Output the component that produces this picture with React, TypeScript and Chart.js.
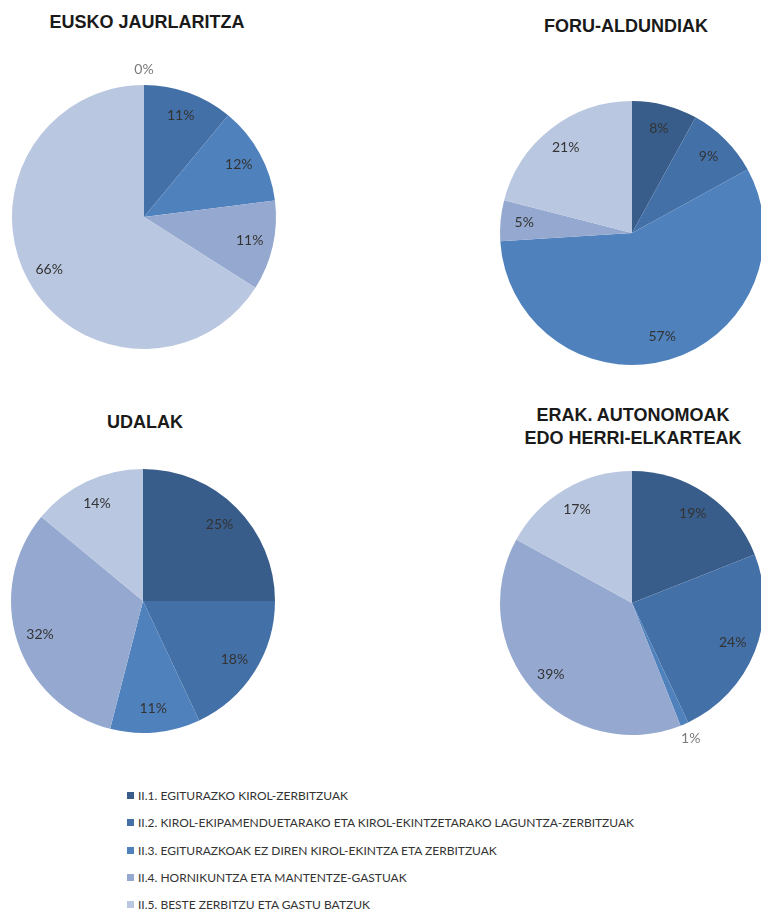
import React, { useEffect, useRef } from "react";
import { Chart, registerables } from "chart.js";

Chart.register(...registerables);

const categories = [
  "II.1. EGITURAZKO KIROL-ZERBITZUAK",
  "II.2. KIROL-EKIPAMENDUETARAKO ETA KIROL-EKINTZETARAKO LAGUNTZA-ZERBITZUAK",
  "II.3. EGITURAZKOAK EZ DIREN KIROL-EKINTZA ETA ZERBITZUAK",
  "II.4. HORNIKUNTZA ETA MANTENTZE-GASTUAK",
  "II.5. BESTE ZERBITZU ETA GASTU BATZUK",
];
const sliceColors = ["#385D8A", "#4470A8", "#4F81BD", "#95A9D0", "#B9C7E0"];

const euskoJaurlaritza = [0, 11, 12, 11, 66];
const foruAldundiak = [8, 9, 57, 5, 21];
const udalak = [25, 18, 11, 32, 14];
const erakAutonomoak = [19, 24, 1, 39, 17];

const pctLabels = {
  id: "pctLabels",
  afterDatasetsDraw(chart: any) {
    const ctx = chart.ctx;
    const meta = chart.getDatasetMeta(0);
    const data = chart.data.datasets[0].data as number[];
    ctx.save();
    ctx.textAlign = "center";
    ctx.textBaseline = "middle";
    meta.data.forEach((arc: any, i: number) => {
      const p = arc.getProps(["x", "y", "startAngle", "endAngle", "outerRadius"], true);
      const mid = (p.startAngle + p.endAngle) / 2;
      const v = data[i];
      const outside = v <= 1;
      const r = outside ? p.outerRadius + 16 : p.outerRadius * 0.82;
      ctx.font = "14px Lato";
      ctx.fillStyle = outside ? "#7a7a7a" : "#333333";
      ctx.fillText(v + "%", p.x + Math.cos(mid) * r, p.y + Math.sin(mid) * r);
    });
    ctx.restore();
  },
};

const SIZE = 320;
const PAD = 28;

function Pie({ values, cx, cy }: { values: number[]; cx: number; cy: number }) {
  const ref = useRef<HTMLCanvasElement>(null);
  useEffect(() => {
    if (!ref.current) return;
    const chart = new Chart(ref.current, {
      type: "pie",
      data: {
        labels: categories,
        datasets: [
          {
            data: values,
            backgroundColor: sliceColors,
            borderWidth: 0,
          },
        ],
      },
      options: {
        responsive: false,
        animation: false,
        layout: { padding: PAD },
        plugins: {
          legend: { display: false },
          tooltip: { enabled: false },
        },
      },
      plugins: [pctLabels],
    });
    return () => chart.destroy();
  }, [values]);
  return (
    <canvas
      ref={ref}
      width={SIZE}
      height={SIZE}
      style={{ position: "absolute", left: cx - SIZE / 2, top: cy - SIZE / 2, width: SIZE, height: SIZE }}
    />
  );
}

function Title({ lines, cx, cy }: { lines: string[]; cx: number; cy: number }) {
  const lh = 23;
  return (
    <div
      style={{
        position: "absolute",
        left: cx - 160,
        width: 320,
        top: cy - lh / 2,
        textAlign: "center",
        font: "bold 18px 'Liberation Sans', Arial, sans-serif",
        lineHeight: lh + "px",
        color: "#1a1a1a",
        whiteSpace: "nowrap",
      }}
    >
      {lines.map((l, i) => (
        <div key={i}>{l}</div>
      ))}
    </div>
  );
}

export default function App() {
  return (
    <div
      style={{
        position: "fixed",
        left: 0,
        top: 0,
        width: 761,
        height: 915,
        overflow: "hidden",
        background: "#ffffff",
      }}
    >
      <Title lines={["EUSKO JAURLARITZA"]} cx={147} cy={22} />
      <Title lines={["FORU-ALDUNDIAK"]} cx={626} cy={26} />
      <Title lines={["UDALAK"]} cx={145} cy={422} />
      <Title lines={["ERAK. AUTONOMOAK", "EDO HERRI-ELKARTEAK"]} cx={633} cy={415} />
      <Pie values={euskoJaurlaritza} cx={144} cy={217} />
      <Pie values={foruAldundiak} cx={632} cy={233} />
      <Pie values={udalak} cx={143} cy={601} />
      <Pie values={erakAutonomoak} cx={632} cy={603} />
      <div style={{ position: "absolute", left: 127, top: 782 }}>
        {categories.map((c, i) => (
          <div
            key={i}
            style={{
              display: "flex",
              alignItems: "center",
              height: 27.3,
              font: "12px Lato, sans-serif",
              color: "#333333",
              whiteSpace: "nowrap",
            }}
          >
            <span
              style={{
                display: "inline-block",
                width: 7,
                height: 7,
                background: sliceColors[i],
                marginRight: 4,
              }}
            />
            {c}
          </div>
        ))}
      </div>
    </div>
  );
}
